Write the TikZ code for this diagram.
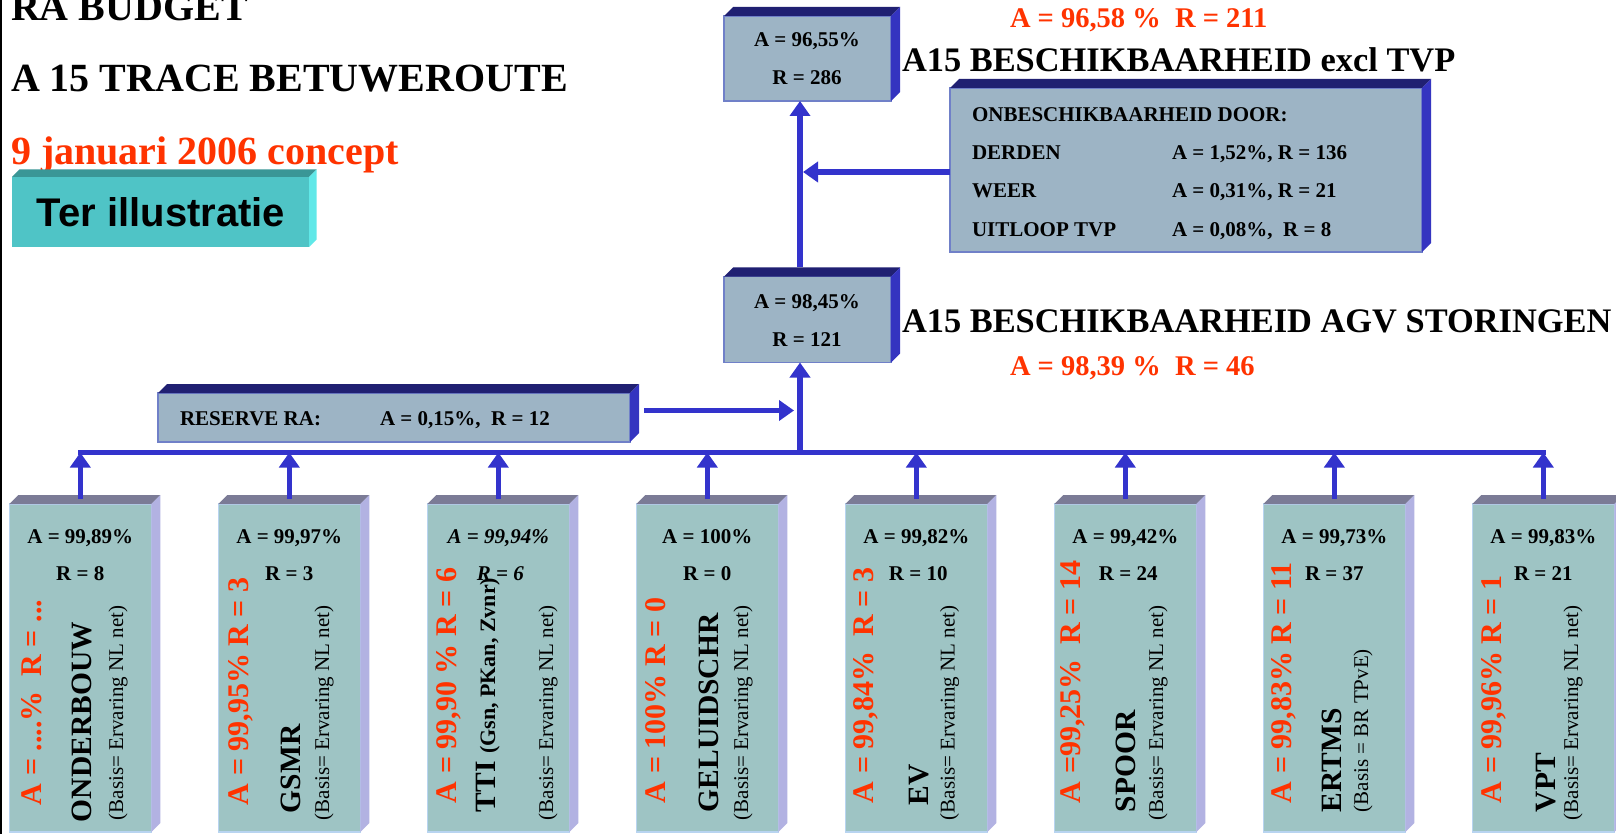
\documentclass[tikz,border=0pt]{standalone}
\usepackage{fontspec}
\setmainfont{Liberation Serif}
\newfontfamily\arialfam{Liberation Sans}
\usetikzlibrary{arrows.meta,calc}
\definecolor{arrowblue}{HTML}{3333CC}
\definecolor{redtxt}{HTML}{FF3300}
\definecolor{slatefront}{HTML}{9DB4C5}
\definecolor{slateedge}{HTML}{7080C8}
\definecolor{slatetop}{HTML}{202072}
\definecolor{slateside}{HTML}{3434C0}
\definecolor{tealfront}{HTML}{9EC4C4}
\definecolor{tealedge}{HTML}{B8D4F0}
\definecolor{tealtop}{HTML}{7B7B96}
\definecolor{tealside}{HTML}{B2B2E2}
\definecolor{terfront}{HTML}{4FC4C6}
\definecolor{tertop}{HTML}{3A9696}
\definecolor{terside}{HTML}{60E8E8}
\newcommand\fsz[1]{\fontsize{#1}{#1}\selectfont}
\newcommand\threed[4]{%
  \fill[#2] (#1.north west) -- ++(#4,-#4) -- ($(#1.north east)+(#4,-#4)$) -- (#1.north east) -- cycle;
  \fill[#3] (#1.north east) -- ++(#4,-#4) -- ($(#1.south east)+(#4,-#4)$) -- (#1.south east) -- cycle;}
\begin{document}
\begin{tikzpicture}[x=1pt,y=-1pt,
  slatebox/.style={rectangle, draw=slateedge, line width=1.5pt, fill=slatefront, inner sep=0, outer sep=0},
  tealbox/.style={rectangle, draw=tealedge, line width=1.5pt, fill=tealfront, inner sep=0, outer sep=0, minimum width=142pt, minimum height=328pt},
  terbox/.style={rectangle, fill=terfront, inner sep=0, outer sep=0},
  arr/.style={draw=arrowblue, line width=5.5pt, -{Triangle[width=20pt,length=15pt]}},
  busline/.style={draw=arrowblue, line width=5.5pt, line cap=rect},
  txt/.style={inner sep=0, outer sep=0, anchor=base},
  txtw/.style={inner sep=0, outer sep=0, anchor=base west},
  rot/.style={inner sep=0, outer sep=0, anchor=base west, rotate=90},
  title/.style={txtw, font=\fsz{40}\bfseries},
  head/.style={txtw, font=\fsz{34.4}\bfseries},
  redhead/.style={txtw, font=\fsz{28.5}\bfseries, text=redtxt},
  val/.style={txt, font=\fsz{21}\bfseries},
  small/.style={txtw, font=\fsz{21}\bfseries},
  redrot/.style={rot, font=\fsz{30}\bfseries, text=redtxt},
  namerot/.style={rot, font=\fsz{29.5}\bfseries},
  basisrot/.style={rot, font=\fsz{21}},
]
\useasboundingbox (0,0) rectangle (1616,834);
\fill[white] (0,0) rectangle (1616,834);
\draw[black, line width=2pt] (1,0) -- (1,834);

% titles
\node[title] (t1) at (11,21) {RA BUDGET};
\node[title] (t2) at (11,92) {A 15 TRACE BETUWEROUTE};
\node[title, text=redtxt] (t3) at (11,165) {9 januari 2006 concept};

% Ter illustratie
\node[terbox, minimum width=297pt, minimum height=70pt] (ter) at (160.5,212) {};
\threed{ter}{tertop}{terside}{7.5}
\node[txt, font=\arialfam\fsz{40}\bfseries] (tertxt) at (161,227) {Ter illustratie};

% top box
\node[slatebox, minimum width=167pt, minimum height=85pt] (top) at (807.5,58.5) {};
\threed{top}{slatetop}{slateside}{9}
\node[val] (topA) at (807,47) {A = 96,55\%};
\node[val] (topR) at (807,85) {R = 286};

% middle box
\node[slatebox, minimum width=167pt, minimum height=86pt] (mid) at (807.5,319.5) {};
\threed{mid}{slatetop}{slateside}{9}
\node[val] (midA) at (807,308) {A = 98,45\%};
\node[val] (midR) at (807,346) {R = 121};

% headings
\node[redhead] (h1) at (1010,28) {A = 96,58 \%~~R = 211};
\node[head] (h2) at (902,72) {A15 BESCHIKBAARHEID excl TVP};
\node[head] (h3) at (902,332) {A15 BESCHIKBAARHEID AGV STORINGEN};
\node[redhead] (h4) at (1010,375) {A = 98,39 \%~~R = 46};

% big box
\node[slatebox, minimum width=472pt, minimum height=164pt] (big) at (1186,170) {};
\threed{big}{slatetop}{slateside}{9}
\node[small] (bg0) at (972,122) {ONBESCHIKBAARHEID DOOR:};
\node[small] (bg1) at (972,160) {DERDEN};
\node[small] (bg2) at (972,198) {WEER};
\node[small] (bg3) at (972,237) {UITLOOP TVP};
\node[small] (bg1v) at (1172,160) {A = 1,52\%, R = 136};
\node[small] (bg2v) at (1172,198) {A = 0,31\%, R = 21};
\node[small] (bg3v) at (1172,237) {A = 0,08\%,~~R = 8};

% reserve box
\node[slatebox, minimum width=472pt, minimum height=49pt] (res) at (394,417.5) {};
\threed{res}{slatetop}{slateside}{9}
\node[small] (res0) at (180,425) {RESERVE RA:};
\node[small] (res1) at (380,425) {A = 0,15\%,~~R = 12};

% bottom boxes
\foreach \i in {1,...,8}{
  \node[tealbox] (b\i) at ({80.3+209*(\i-1)},668) {};
  \threed{b\i}{tealtop}{tealside}{9}
}
\coordinate (rowA) at (0,543);
\coordinate (rowR) at (0,580);
\coordinate (spine) at (800,452.5);

% connectors
\draw[busline] (b1.north |- spine) -- (b8.north |- spine);
\foreach \i in {1,...,8}{
  \draw[arr] ($(b\i.north)+(0,-5)$) -- (b\i.north |- spine);
}
\draw[arr] (spine) -- (spine |- mid.south);
\draw[arr] ($(spine |- mid.north)+(0,-9)$) -- (spine |- top.south);
\draw[arr] ($(big.west)+(0,2)$) -- ($(big.west -| spine)+(3,2)$);
\draw[arr] ($(res.east)+(14,-7)$) -- ($(res.east -| spine)+(-6,-7)$);

% bottom box values
\node[val] (b1a) at (b1.north |- rowA) {A = 99,89\%};
\node[val] (b1r) at (b1.north |- rowR) {R = 8};
\node[val] (b2a) at (b2.north |- rowA) {A = 99,97\%};
\node[val] (b2r) at (b2.north |- rowR) {R = 3};
\node[val, font=\fsz{21}\bfseries\itshape] (b3a) at (b3.north |- rowA) {A = 99,94\%};
\node[val, font=\fsz{21}\bfseries\itshape] (b3r) at ($(b3.north |- rowR)+(2,0)$) {R = 6};
\node[val] (b4a) at (b4.north |- rowA) {A = 100\%};
\node[val] (b4r) at (b4.north |- rowR) {R = 0};
\node[val] (b5a) at (b5.north |- rowA) {A = 99,82\%};
\node[val] (b5r) at ($(b5.north |- rowR)+(2,0)$) {R = 10};
\node[val] (b6a) at (b6.north |- rowA) {A = 99,42\%};
\node[val] (b6r) at ($(b6.north |- rowR)+(3,0)$) {R = 24};
\node[val] (b7a) at (b7.north |- rowA) {A = 99,73\%};
\node[val] (b7r) at (b7.north |- rowR) {R = 37};
\node[val] (b8a) at (b8.north |- rowA) {A = 99,83\%};
\node[val] (b8r) at (b8.north |- rowR) {R = 21};

% rotated texts
\node[redrot] (b1red) at (41.7,805) {A = ....\%~~R = ...};
\node[namerot] (b1n) at (91.7,822) {ONDERBOUW};
\node[basisrot] (b1b) at (123,820) {(Basis= Ervaring NL net)};

\node[redrot] (b2red) at (248.3,805) {A = 99,95\% R = 3};
\node[namerot] (b2n) at (300,813) {GSMR};
\node[basisrot] (b2b) at (329,820) {(Basis= Ervaring NL net)};

\node[redrot] (b3red) at (456.7,803) {A = 99,90 \% R = 6};
\node[namerot] (b3n) at (495,812) {TTI {\fsz{22}(Gsn, PKan, Zvnr)}};
\node[basisrot] (b3b) at (553,820) {(Basis= Ervaring NL net)};

\node[redrot] (b4red) at (665,803) {A = 100\% R = 0};
\node[namerot] (b4n) at (718.3,812) {GELUIDSCHR};
\node[basisrot] (b4b) at (748,820) {(Basis= Ervaring NL net)};

\node[redrot] (b5red) at (873,803) {A = 99,84\%~~R = 3};
\node[namerot] (b5n) at (928.3,805) {EV};
\node[basisrot] (b5b) at (954.5,820) {(Basis= Ervaring NL net)};

\node[redrot] (b6red) at (1080,803) {A =99,25\%~~R = 14};
\node[namerot] (b6n) at (1135,812) {SPOOR};
\node[basisrot] (b6b) at (1163,820) {(Basis= Ervaring NL net)};

\node[redrot] (b7red) at (1291.7,803) {A = 99,83\% R = 11};
\node[namerot] (b7n) at (1341.7,812) {ERTMS};
\node[basisrot] (b7b) at (1368,812) {(Basis = BR TPvE)};

\node[redrot] (b8red) at (1501.7,803) {A = 99,96\% R = 1};
\node[namerot] (b8n) at (1555,812) {VPT};
\node[basisrot] (b8b) at (1578,820) {(Basis= Ervaring NL net)};
\end{tikzpicture}
\end{document}
